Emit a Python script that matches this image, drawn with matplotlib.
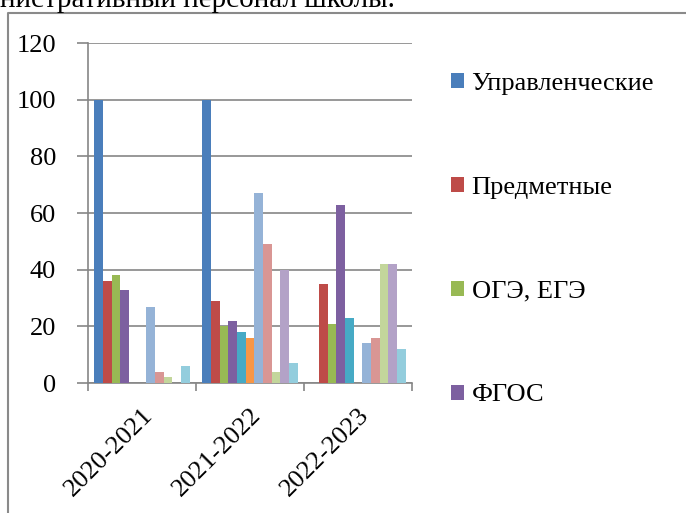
import matplotlib
matplotlib.use("Agg")
import matplotlib.pyplot as plt
from matplotlib.lines import Line2D
from matplotlib import font_manager as fm
import numpy as np
import os

# locate a Times-like serif font file
serif_name = None
files = fm.findSystemFonts()
prefs = ["liberationserif-regular", "times", "nimbusroman", "dejavuserif.ttf", "notoserif-regular"]
for p in prefs:
    for f in files:
        if p in os.path.basename(f).lower():
            try:
                fm.fontManager.addfont(f)
                serif_name = fm.FontProperties(fname=f).get_name()
            except Exception:
                serif_name = None
            if serif_name:
                break
    if serif_name:
        break
if serif_name is None:
    serif_name = "DejaVu Sans"
plt.rcParams['font.family'] = [serif_name, 'DejaVu Sans']

categories = ["2020-2021", "2021-2022", "2022-2023"]
series_names = ["Управленческие", "Предметные", "ОГЭ, ЕГЭ", "ФГОС",
                "Ряд 5", "Ряд 6", "Ряд 7", "Ряд 8", "Ряд 9", "Ряд 10", "Ряд 11"]
s1 = [100, 100, 0]
s2 = [36, 29, 35]
s3 = [38, 20, 21]
s4 = [33, 22, 63]
s5 = [0, 18, 23]
s6 = [0, 16, 0]
s7 = [27, 67, 14]
s8 = [4, 49, 16]
s9 = [2, 4, 42]
s10 = [0, 40, 42]
s11 = [6, 7, 12]
series = [s1, s2, s3, s4, s5, s6, s7, s8, s9, s10, s11]
colors = ["#4A7EBB", "#BE4B48", "#98B954", "#7D60A0", "#46AAC5", "#F79646",
          "#95B3D7", "#D99694", "#C3D69B", "#B3A2C7", "#93CDDD"]
legend_shown = 4
yticks = [0, 20, 40, 60, 80, 100, 120]

W, H = 686, 513
fig = plt.figure(figsize=(W / 100, H / 100), dpi=100)
ax = fig.add_axes([88 / W, 1 - 383 / H, 324 / W, 340 / H])

n = len(series)
w = 1 / (n + 1.5)
x = np.arange(len(categories))
containers = []
for j, (vals, c, name) in enumerate(zip(series, colors, series_names)):
    cont = ax.bar(x + (j - (n - 1) / 2) * w, vals, width=w, color=c, label=name, zorder=3)
    containers.append(cont)

FS = 19
ax.set_xlim(-0.5, len(categories) - 0.5)
ax.set_ylim(0, 120)
ax.set_yticks(yticks)
ax.set_yticklabels([str(v) for v in yticks], fontsize=FS)
ax.yaxis.grid(True, color="#868686", linewidth=1.2, zorder=0)
ax.tick_params(axis='y', length=8, width=1.2, color="#868686", pad=15)

ax.set_xticks(np.arange(-0.5, len(categories), 1.0))
ax.set_xticklabels([])
ax.tick_params(axis='x', which='major', length=6, width=1.2, color="#868686")
ax.set_xticks(x, minor=True)
ax.set_xticklabels(categories, minor=True, rotation=45, ha='right', va='top',
                   rotation_mode='anchor', fontsize=FS)
ax.tick_params(axis='x', which='minor', length=0, pad=15)

for side in ['top', 'right']:
    ax.spines[side].set_visible(False)
for side in ['left', 'bottom']:
    ax.spines[side].set_color("#868686")
    ax.spines[side].set_linewidth(1.2)

leg = fig.legend(handles=containers[:legend_shown], labels=series_names[:legend_shown],
                 loc='upper left', bbox_to_anchor=(451 / W, 1 - 73 / H),
                 frameon=False, fontsize=FS, borderpad=0, borderaxespad=0,
                 handlelength=0.5, handleheight=0.5, handletextpad=0.28,
                 labelspacing=3.1)

# chart frame (top and left edges visible)
fig.add_artist(Line2D([8 / W, 8 / W, 1.0], [0.0, 1 - 13 / H, 1 - 13 / H],
                      transform=fig.transFigure, color="#8a8a8a", linewidth=1.5))

# partial line of document text above the chart
fig.text(0.0, 1 - 7 / H, "нистративный персонал школы.", fontsize=21,
         ha='left', va='baseline')

fig.savefig("out.png", dpi=100)
